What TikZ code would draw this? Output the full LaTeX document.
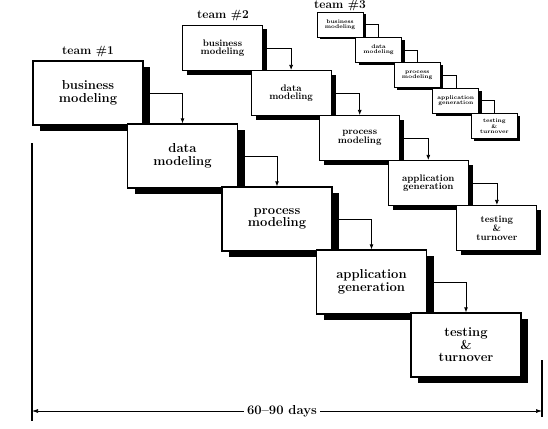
\documentclass[tikz,border=0pt]{standalone}
\usetikzlibrary{positioning, arrows.meta, shapes, shadows}
\usepackage{xcolor}

\begin{document}
\begin{tikzpicture}[x=1pt, y=-1pt]
        \tikzstyle{phase} = [rectangle, draw=black, fill=white, align=center, inner sep=1pt]
        \tikzstyle{bigphase} = [phase, line width=1.3pt, minimum width=110pt, minimum height=64pt,
          font=\fontsize{13}{12.5}\selectfont\bfseries,
          drop shadow={shadow xshift=7pt, shadow yshift=-6pt, fill=black, opacity=1}]
        \tikzstyle{midphase} = [phase, line width=1.1pt, minimum width=80pt, minimum height=45pt,
          font=\fontsize{9.5}{8.5}\selectfont\bfseries,
          drop shadow={shadow xshift=4.5pt, shadow yshift=-4pt, fill=black, opacity=1}]
        \tikzstyle{smallphase} = [phase, line width=0.9pt, minimum width=46pt, minimum height=25pt,
          font=\fontsize{5.5}{5}\selectfont\bfseries,
          drop shadow={shadow xshift=3pt, shadow yshift=-2.5pt, fill=black, opacity=1}]
        \tikzstyle{team} = [inner sep=0pt, font=\fontsize{12}{14}\selectfont\bfseries]
        \tikzstyle{flow} = [line width=0.8pt, -{Latex[length=5pt, width=4pt]}]
        \useasboundingbox (0,0) rectangle (548,428);

        % team 1
        \foreach \txt [count=\i] in {{business\\modeling},{data\\modeling},{process\\modeling},
            {application\\generation},{testing\\\&\\turnover}}
          \node[bigphase] (a\i) at ({88+94.5*(\i-1)}, {93+63*(\i-1)}) {\txt};
        \foreach \i [count=\j from 2] in {1,...,4}
          \draw[flow] (a\i.east) -| (a\j.north);

        % team 2
        \foreach \txt [count=\i] in {{business\\modeling},{data\\modeling},{process\\modeling},
            {application\\generation},{testing\\\&\\turnover}}
          \node[midphase] (b\i) at ({222.5+68.6*(\i-1)}, {48+45*(\i-1)}) {\txt};
        \foreach \i [count=\j from 2] in {1,...,4}
          \draw[flow, line width=0.7pt] (b\i.east) -| (b\j.north);

        % team 3
        \foreach \txt [count=\i] in {{business\\modeling},{data\\modeling},{process\\modeling},
            {application\\generation},{testing\\\&\\turnover}}
          \node[smallphase] (c\i) at ({340+38.6*(\i-1)}, {24.5+25.4*(\i-1)}) {\txt};
        \foreach \i [count=\j from 2] in {1,...,4}
          \draw[line width=0.6pt] (c\i.east) -| (c\j.north);

        \node[team] (team1) at (88,52) {team \#1};
        \node[team] (team2) at (223,16) {team \#2};
        \node[team] (team3) at (340,6) {team \#3};

        % time span
        \coordinate (ltop) at (32,143);
        \coordinate (lbot) at (32,421);
        \coordinate (rtop) at (542,360);
        \coordinate (rbot) at (542,417);
        \coordinate (lspan) at (32,411);
        \coordinate (rspan) at (542,411);
        \draw[line width=1.2pt] (ltop) -- (lbot);
        \draw[line width=1.2pt] (rtop) -- (rbot);
        \draw[line width=0.7pt, {Latex[length=6pt, width=4pt]}-{Latex[length=6pt, width=4pt]}] (lspan) --
          node[pos=0.49, fill=white, inner sep=3pt, font=\fontsize{13}{14}\selectfont\bfseries] (span) {60--90 days} (rspan);
      \end{tikzpicture}
\end{document}
